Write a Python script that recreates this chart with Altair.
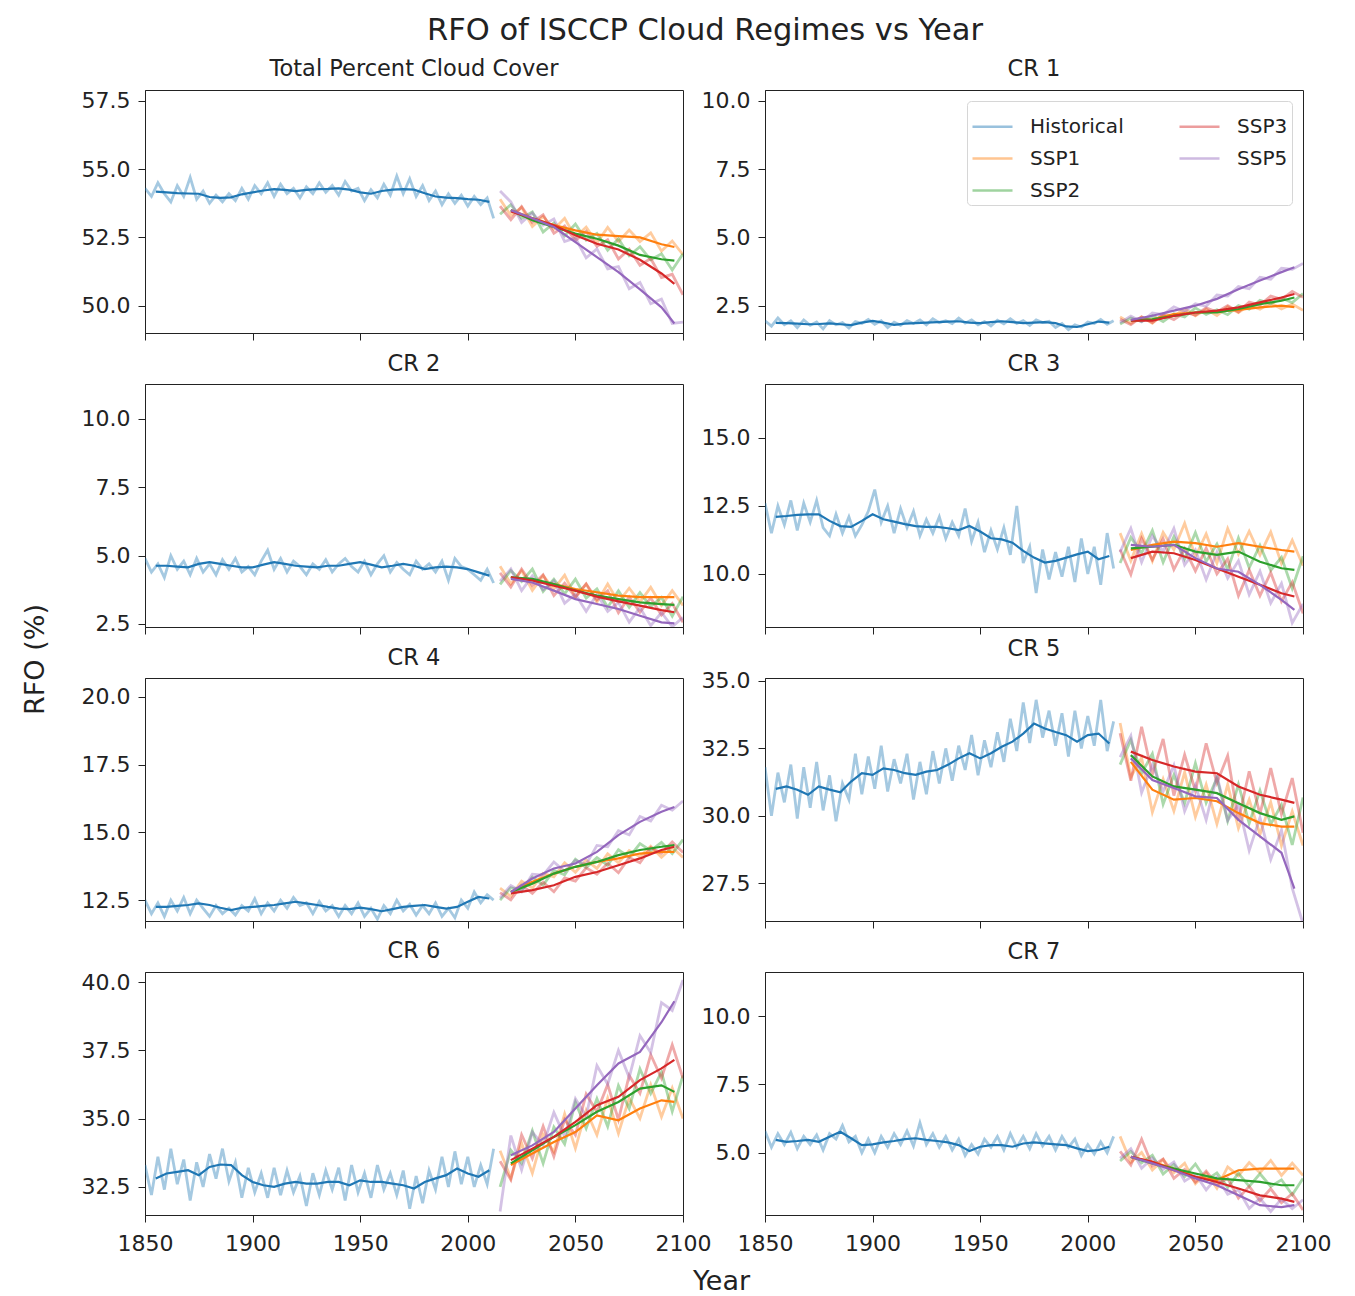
import altair as alt
import pandas as pd

FONT = "DejaVu Sans"
TXT = "#222222"

PANELS = ["Total Percent Cloud Cover", "CR 1", "CR 2", "CR 3", "CR 4", "CR 5", "CR 6", "CR 7"]
SSP_NAMES = ["SSP1", "SSP2", "SSP3", "SSP5"]
LEGEND_ORDER = ["Historical", "SSP1", "SSP2", "SSP3", "SSP5"]
LEGEND_COLORS = ["#1f77b4", "#ff7f0e", "#2ca02c", "#d62728", "#9467bd"]

HIST_RAW_YEARS = list(range(1850, 2013, 3))
HIST_SM_YEARS = list(range(1855, 2011, 5))
SSP_RAW_YEARS = list(range(2015, 2101, 5))
SSP_SM_YEARS = [2020, 2030, 2040, 2050, 2060, 2070, 2080, 2090, 2096]

X_TICKS = [1850, 1900, 1950, 2000, 2050, 2100]
Y_DOMAINS = [[49.0, 57.9], [1.5, 10.4], [2.39, 11.28], [8.05, 16.98],
             [11.73, 20.7], [26.1, 35.11], [31.47, 40.37], [2.72, 11.62]]
Y_TICKS = [[50, 52.5, 55, 57.5], [2.5, 5, 7.5, 10], [2.5, 5, 7.5, 10], [10, 12.5, 15],
           [12.5, 15, 17.5, 20], [27.5, 30, 32.5, 35], [32.5, 35, 37.5, 40], [5, 7.5, 10]]

# ---------------- Total Percent Cloud Cover ----------------
T_HIST_RAW = [54.3, 54.0, 54.5, 54.1, 53.8, 54.4, 54.0, 54.7, 53.9, 54.2,
              53.75, 54.05, 53.8, 54.1, 53.85, 54.3, 53.9, 54.4, 54.1, 54.5,
              54.0, 54.45, 54.1, 54.3, 53.95, 54.35, 54.1, 54.5, 54.15, 54.4,
              54.05, 54.55, 54.2, 54.3, 53.85, 54.25, 53.95, 54.45, 54.05, 54.75,
              54.1, 54.65, 54.0, 54.4, 53.85, 54.2, 53.7, 54.1, 53.75, 54.05,
              53.65, 54.0, 53.7, 53.95, 53.2]
T_HIST_SM = [54.18, 54.15, 54.12, 54.11, 54.10, 53.98, 53.95, 53.97, 54.08, 54.15,
             54.22, 54.27, 54.24, 54.20, 54.24, 54.27, 54.28, 54.30, 54.25, 54.15,
             54.10, 54.20, 54.25, 54.27, 54.25, 54.12, 54.00, 53.96, 53.94, 53.90,
             53.88, 53.80]
T_SSP_RAW = [
    [53.9, 53.3, 53.6, 52.9, 53.27, 52.8, 53.2, 52.51, 52.88, 52.3, 52.87, 52.35, 52.77, 52.35, 52.67, 52.0, 52.37, 51.87],
    [53.35, 53.7, 53.2, 53.43, 52.7, 53.03, 52.56, 52.99, 52.4, 52.65, 52.03, 52.45, 51.83, 52.16, 51.68, 51.9, 51.31, 51.9],
    [53.65, 53.15, 53.63, 53.05, 53.33, 52.65, 52.92, 52.38, 52.72, 52.17, 52.42, 51.71, 52.07, 51.48, 51.73, 51.03, 51.15, 50.4],
    [54.2, 53.8, 53.05, 53.4, 52.95, 53.18, 52.35, 52.48, 51.75, 52.08, 51.35, 51.43, 50.62, 50.85, 50.07, 50.24, 49.35, 49.4],
]
T_SSP_SM = [
    [53.5, 53.2, 52.95, 52.76, 52.6, 52.55, 52.5, 52.25, 52.15],
    [53.5, 53.13, 52.88, 52.64, 52.45, 52.2, 51.86, 51.7, 51.65],
    [53.45, 53.2, 52.95, 52.58, 52.27, 52.06, 51.68, 51.18, 50.8],
    [53.5, 53.2, 52.88, 52.33, 51.78, 51.23, 50.6, 49.94, 49.35],
]

# ---------------- CR 1 ----------------
C1_HIST_RAW = [1.95, 1.75, 2.05, 1.80, 1.95, 1.70, 1.98, 1.78, 1.90, 1.65,
               1.95, 1.80, 1.88, 1.68, 1.92, 1.85, 2.00, 1.82, 1.95, 1.70,
               1.90, 1.78, 1.95, 1.85, 1.98, 1.80, 2.02, 1.88, 1.95, 1.84,
               2.05, 1.86, 1.98, 1.80, 1.92, 1.76, 1.97, 1.84, 2.02, 1.85,
               1.95, 1.78, 1.98, 1.88, 1.93, 1.70, 1.85, 1.62, 1.80, 1.72,
               1.90, 1.85, 2.00, 1.82, 1.95]
C1_HIST_SM = [1.87, 1.86, 1.84, 1.82, 1.83, 1.85, 1.82, 1.79, 1.88, 1.94,
              1.88, 1.80, 1.84, 1.86, 1.88, 1.90, 1.92, 1.93, 1.88, 1.86,
              1.90, 1.93, 1.90, 1.86, 1.88, 1.90, 1.86, 1.74, 1.72, 1.82,
              1.92, 1.88]
C1_SSP_RAW = [
    [2.09, 1.85, 2.09, 1.86, 2.2, 2.12, 2.39, 2.13, 2.37, 2.14, 2.46, 2.25, 2.52, 2.37, 2.61, 2.38, 2.56, 2.33],
    [1.83, 2.05, 1.92, 2.14, 1.92, 2.2, 2.09, 2.42, 2.18, 2.35, 2.17, 2.5, 2.37, 2.7, 2.57, 2.78, 2.61, 2.94],
    [2.0, 1.81, 2.09, 1.88, 2.16, 1.99, 2.26, 2.15, 2.42, 2.27, 2.5, 2.27, 2.63, 2.52, 2.85, 2.73, 3.02, 2.81],
    [1.88, 2.12, 1.91, 2.23, 2.17, 2.46, 2.29, 2.57, 2.48, 2.89, 2.85, 3.2, 3.12, 3.54, 3.47, 3.87, 3.83, 4.05],
]
C1_SSP_SM = [
    [1.95, 2.0, 2.19, 2.25, 2.28, 2.35, 2.44, 2.5, 2.45],
    [1.95, 2.0, 2.13, 2.25, 2.25, 2.38, 2.56, 2.68, 2.8],
    [1.95, 1.95, 2.13, 2.25, 2.32, 2.44, 2.62, 2.8, 2.93],
    [1.98, 2.13, 2.32, 2.5, 2.75, 3.1, 3.42, 3.73, 3.91],
]

# ---------------- CR 2 ----------------
C2_HIST_RAW = [4.9, 4.4, 4.7, 4.2, 5.0, 4.5, 4.8, 4.3, 4.9, 4.4,
               4.7, 4.3, 4.85, 4.5, 4.9, 4.4, 4.6, 4.3, 4.8, 5.2,
               4.5, 4.9, 4.4, 4.8, 4.6, 4.3, 4.7, 4.5, 4.85, 4.4,
               4.7, 4.9, 4.6, 4.4, 4.8, 4.3, 4.7, 5.0, 4.4, 4.75,
               4.5, 4.3, 4.8, 4.5, 4.7, 4.4, 4.8, 4.1, 4.9, 4.6,
               4.5, 4.3, 4.1, 4.5, 4.0]
C2_HIST_SM = [4.63, 4.63, 4.60, 4.57, 4.70, 4.76, 4.70, 4.63, 4.57, 4.57,
              4.67, 4.76, 4.70, 4.63, 4.60, 4.57, 4.63, 4.63, 4.70, 4.76,
              4.67, 4.57, 4.63, 4.70, 4.63, 4.51, 4.57, 4.60, 4.57, 4.51,
              4.39, 4.27]
C2_SSP_RAW = [
    [4.61, 3.97, 4.45, 3.73, 4.27, 3.78, 4.29, 3.48, 3.96, 3.3, 3.96, 3.3, 3.81, 3.3, 3.84, 3.18, 3.72, 3.18],
    [3.95, 4.45, 4.06, 4.51, 3.69, 4.14, 3.6, 4.14, 3.45, 3.78, 3.11, 3.71, 3.11, 3.65, 3.14, 3.47, 2.79, 3.5],
    [4.37, 3.85, 4.51, 3.91, 4.3, 3.54, 3.99, 3.48, 3.97, 3.38, 3.72, 2.91, 3.49, 2.93, 3.45, 2.83, 3.25, 2.56],
    [4.07, 4.51, 3.72, 4.26, 3.75, 4.08, 3.26, 3.59, 2.96, 3.59, 2.96, 3.29, 2.57, 3.1, 2.44, 2.92, 2.4, 2.74],
]
C2_SSP_SM = [
    [4.21, 4.09, 3.96, 3.78, 3.66, 3.54, 3.48, 3.48, 3.48],
    [4.21, 4.15, 3.96, 3.72, 3.54, 3.41, 3.29, 3.23, 3.2],
    [4.21, 4.09, 3.9, 3.72, 3.5, 3.33, 3.17, 3.01, 2.93],
    [4.15, 4.02, 3.72, 3.41, 3.23, 3.05, 2.8, 2.56, 2.52],
]

# ---------------- CR 3 ----------------
C3_HIST_RAW = [12.6, 11.5, 12.5, 11.8, 12.7, 11.6, 12.6, 11.9, 12.7, 11.7,
               11.4, 12.2, 11.5, 12.1, 11.4, 11.8, 12.3, 13.1, 11.9, 12.5,
               11.5, 12.4, 11.7, 12.3, 11.4, 12.0, 11.5, 12.1, 11.3, 11.9,
               11.4, 12.4, 11.2, 11.9, 10.8, 11.6, 10.9, 11.7, 10.7, 12.5,
               10.4, 11.0, 9.3, 10.9, 9.8, 10.8, 9.9, 11.0, 9.7, 11.3,
               10.0, 11.0, 9.6, 11.5, 10.2]
C3_HIST_SM = [12.10, 12.13, 12.17, 12.19, 12.19, 11.95, 11.76, 11.73, 11.95, 12.19,
              12.01, 11.92, 11.83, 11.76, 11.73, 11.73, 11.68, 11.61, 11.76, 11.56,
              11.31, 11.27, 11.15, 10.85, 10.60, 10.42, 10.48, 10.60, 10.72, 10.82,
              10.54, 10.66]
C3_SSP_RAW = [
    [11.5, 10.48, 11.48, 10.47, 11.53, 10.89, 11.86, 10.63, 11.47, 10.4, 11.67, 10.73, 11.57, 10.7, 11.54, 10.38, 11.24, 10.3],
    [10.4, 11.34, 10.77, 11.6, 10.43, 11.37, 10.55, 11.52, 10.46, 11.1, 10.16, 11.32, 10.23, 11.05, 10.13, 10.61, 9.47, 10.65],
    [10.9, 9.98, 11.3, 10.52, 11.29, 10.16, 10.93, 10.11, 10.95, 10.0, 10.55, 9.2, 10.15, 9.2, 10.05, 8.99, 9.7, 8.55],
    [10.8, 11.67, 10.43, 11.4, 10.83, 11.67, 10.33, 10.88, 9.79, 10.8, 9.84, 10.48, 9.24, 10.1, 8.93, 9.65, 8.2, 8.9],
]
C3_SSP_SM = [
    [10.88, 11.07, 11.19, 11.13, 11.0, 11.13, 11.0, 10.88, 10.82],
    [10.94, 11.0, 11.07, 10.82, 10.7, 10.82, 10.45, 10.21, 10.15],
    [10.58, 10.82, 10.76, 10.51, 10.2, 9.9, 9.6, 9.29, 9.17],
    [11.07, 11.0, 11.07, 10.58, 10.2, 10.08, 9.6, 9.05, 8.68],
]

# ---------------- CR 4 ----------------
C4_HIST_RAW = [12.5, 12.0, 12.4, 11.9, 12.5, 12.1, 12.6, 12.0, 12.5, 12.2,
               11.9, 12.3, 12.0, 12.2, 11.95, 12.3, 12.1, 12.55, 12.0, 12.4,
               12.1, 12.5, 12.2, 12.6, 12.3, 12.4, 12.0, 12.45, 12.1, 12.3,
               11.9, 12.3, 12.0, 12.4, 11.9, 12.2, 11.8, 12.3, 12.0, 12.5,
               12.1, 12.35, 11.95, 12.3, 12.0, 12.4, 11.9, 12.2, 11.85, 12.5,
               12.2, 12.8, 12.4, 12.7, 12.5]
C4_HIST_SM = [12.25, 12.25, 12.29, 12.32, 12.38, 12.32, 12.22, 12.13, 12.22, 12.25,
              12.29, 12.32, 12.38, 12.44, 12.38, 12.32, 12.25, 12.19, 12.17, 12.22,
              12.17, 12.09, 12.17, 12.25, 12.29, 12.32, 12.25, 12.19, 12.25, 12.44,
              12.62, 12.56]
C4_SSP_RAW = [
    [12.94, 12.64, 13.2, 12.94, 13.49, 13.36, 13.88, 13.53, 13.98, 13.67, 14.21, 13.88, 14.33, 14.1, 14.49, 14.08, 14.44, 14.08],
    [12.5, 12.96, 12.87, 13.35, 13.06, 13.6, 13.44, 14.01, 13.7, 14.07, 13.79, 14.36, 14.09, 14.59, 14.33, 14.63, 14.22, 14.73],
    [12.78, 12.51, 13.05, 12.75, 13.16, 12.81, 13.32, 13.2, 13.69, 13.46, 13.86, 13.51, 14.07, 13.88, 14.44, 14.23, 14.65, 14.26],
    [12.58, 13.04, 12.81, 13.46, 13.42, 13.91, 13.56, 13.97, 13.82, 14.52, 14.47, 15.06, 14.91, 15.59, 15.42, 16.0, 15.82, 16.16],
]
C4_SSP_SM = [
    [12.8, 13.18, 13.48, 13.73, 13.91, 14.04, 14.22, 14.28, 14.28],
    [12.8, 13.11, 13.48, 13.73, 13.91, 14.16, 14.35, 14.47, 14.53],
    [12.75, 12.87, 13.05, 13.36, 13.54, 13.79, 14.04, 14.35, 14.47],
    [12.8, 13.3, 13.67, 13.85, 14.28, 14.9, 15.39, 15.76, 15.94],
]

# ---------------- CR 5 ----------------
C5_HIST_RAW = [31.8, 30.0, 31.6, 30.5, 31.9, 29.9, 31.8, 30.3, 32.0, 30.2,
               31.5, 29.8, 31.2, 30.6, 32.3, 30.8, 32.2, 31.0, 32.6, 30.9,
               32.1, 31.2, 32.3, 30.6, 32.0, 30.8, 32.4, 31.2, 32.5, 31.3,
               32.6, 31.7, 33.0, 31.5, 32.8, 31.8, 33.1, 32.0, 33.6, 32.4,
               34.2, 32.7, 34.3, 32.9, 33.9, 32.6, 33.8, 32.2, 33.9, 32.5,
               33.7, 32.6, 34.3, 32.4, 33.5]
C5_HIST_SM = [31.0, 31.09, 30.97, 30.78, 31.09, 30.97, 30.87, 31.27, 31.58, 31.52,
              31.76, 31.7, 31.58, 31.52, 31.64, 31.7, 31.89, 32.13, 32.32, 32.13,
              32.32, 32.56, 32.75, 33.05, 33.42, 33.24, 33.11, 32.99, 32.75, 32.99,
              33.05, 32.68]
C5_SSP_RAW = [
    [33.44, 31.44, 32.15, 30.13, 31.36, 30.18, 31.61, 29.96, 31.16, 29.7, 31.16, 29.54, 30.6, 29.31, 30.5, 28.9, 30.16, 28.9],
    [31.9, 32.81, 31.57, 32.3, 30.43, 31.51, 30.47, 31.95, 30.48, 31.4, 29.81, 31.17, 29.72, 30.94, 29.69, 30.41, 28.92, 30.68],
    [33.06, 31.3, 33.3, 31.53, 32.85, 30.75, 32.27, 30.92, 32.69, 31.22, 32.23, 29.83, 31.65, 30.06, 31.77, 30.06, 31.4, 29.37],
    [32.18, 32.97, 30.86, 31.89, 30.9, 31.87, 30.17, 31.14, 29.85, 31.5, 29.83, 30.41, 28.71, 29.94, 28.38, 29.47, 27.32, 26.0],
]
C5_SSP_SM = [
    [32.0, 30.97, 30.6, 30.66, 30.54, 30.1, 29.73, 29.6, 29.6],
    [32.25, 31.46, 31.09, 30.97, 30.84, 30.47, 30.1, 29.85, 29.98],
    [32.38, 32.07, 31.83, 31.64, 31.58, 31.09, 30.78, 30.6, 30.48],
    [32.13, 31.33, 31.03, 30.72, 30.66, 29.85, 29.24, 28.63, 27.3],
]

# ---------------- CR 6 ----------------
C6_HIST_RAW = [33.3, 32.2, 33.6, 32.4, 33.9, 32.6, 33.5, 32.0, 33.4, 32.5,
               33.7, 32.8, 33.9, 32.7, 33.4, 32.1, 33.2, 32.3, 33.0, 32.1,
               33.2, 32.2, 33.1, 32.3, 32.9, 31.8, 33.0, 32.2, 33.1, 32.4,
               33.2, 32.0, 33.3, 32.3, 33.0, 32.1, 33.3, 32.4, 33.0, 32.2,
               33.1, 31.7, 32.9, 31.9, 33.1, 32.4, 33.6, 32.5, 33.8, 32.6,
               33.6, 32.5, 33.3, 32.6, 33.9]
C6_HIST_SM = [32.81, 32.99, 33.05, 33.11, 32.93, 33.23, 33.32, 33.3, 32.93, 32.68,
              32.56, 32.5, 32.62, 32.68, 32.62, 32.62, 32.68, 32.68, 32.56, 32.74,
              32.68, 32.68, 32.62, 32.56, 32.44, 32.68, 32.81, 32.93, 33.17, 32.99,
              32.87, 33.11]
C6_SSP_RAW = [
    [33.82, 32.82, 34.1, 33.0, 34.41, 33.78, 35.17, 33.91, 35.3, 34.4, 35.75, 34.46, 35.75, 35.01, 36.24, 35.07, 36.12, 35.0],
    [32.5, 33.84, 33.36, 34.56, 33.36, 34.69, 34.07, 35.6, 34.64, 35.73, 34.71, 36.21, 35.37, 36.82, 35.92, 36.7, 35.26, 36.58],
    [33.44, 32.76, 34.41, 33.54, 34.72, 33.61, 34.96, 34.4, 35.9, 35.25, 36.25, 34.96, 36.58, 35.93, 37.34, 36.48, 37.7, 36.48],
    [31.6, 34.38, 33.12, 34.5, 34.03, 35.23, 34.34, 35.73, 35.08, 36.94, 36.26, 37.5, 36.51, 38.04, 37.42, 39.25, 38.96, 40.08],
]
C6_SSP_SM = [
    [33.3, 33.72, 34.14, 34.51, 35.12, 34.94, 35.37, 35.67, 35.61],
    [33.36, 33.84, 34.33, 34.76, 35.25, 35.61, 36.1, 36.22, 35.98],
    [33.48, 33.9, 34.33, 34.88, 35.49, 35.8, 36.41, 36.84, 37.15],
    [33.66, 34.02, 34.51, 35.37, 36.22, 37.02, 37.44, 38.53, 39.3],
]

# ---------------- CR 7 ----------------
C7_HIST_RAW = [5.8, 5.2, 5.7, 5.3, 5.75, 5.15, 5.6, 5.3, 5.65, 5.1,
               5.7, 5.5, 6.0, 5.4, 5.6, 5.0, 5.5, 5.0, 5.6, 5.2,
               5.7, 5.3, 5.8, 5.25, 6.1, 5.3, 5.7, 5.2, 5.6, 5.1,
               5.5, 4.9, 5.3, 4.95, 5.5, 5.2, 5.6, 5.1, 5.7, 5.2,
               5.6, 5.15, 5.7, 5.25, 5.6, 5.1, 5.6, 5.2, 5.5, 4.9,
               5.3, 4.95, 5.4, 5.0, 5.6]
C7_HIST_SM = [5.47, 5.4, 5.43, 5.47, 5.4, 5.59, 5.77, 5.53, 5.28, 5.31,
              5.38, 5.43, 5.5, 5.53, 5.47, 5.43, 5.38, 5.28, 5.06, 5.22,
              5.28, 5.28, 5.22, 5.34, 5.38, 5.34, 5.31, 5.28, 5.16, 5.06,
              5.1, 5.22]
C7_SSP_RAW = [
    [5.6, 4.65, 5.01, 4.37, 4.75, 4.27, 4.62, 3.87, 4.26, 3.7, 4.48, 4.16, 4.64, 4.27, 4.72, 4.17, 4.62, 4.17],
    [4.7, 5.05, 4.63, 4.91, 4.22, 4.57, 4.13, 4.59, 4.0, 4.26, 3.73, 4.25, 3.77, 4.23, 3.77, 4.01, 3.46, 4.06],
    [5.05, 4.55, 5.5, 4.52, 4.77, 4.06, 4.39, 3.92, 4.33, 3.83, 4.06, 3.34, 3.77, 3.24, 3.68, 3.17, 3.5, 2.9],
    [4.8, 5.15, 4.43, 4.81, 4.39, 4.66, 3.96, 4.21, 3.64, 4.11, 3.48, 3.64, 2.96, 3.33, 2.85, 3.31, 2.95, 3.28],
]
C7_SSP_SM = [
    [4.85, 4.67, 4.42, 4.12, 4.0, 4.36, 4.42, 4.42, 4.42],
    [4.85, 4.61, 4.42, 4.24, 4.06, 4.0, 3.93, 3.81, 3.81],
    [4.85, 4.67, 4.36, 4.12, 3.93, 3.69, 3.44, 3.32, 3.2],
    [4.85, 4.61, 4.36, 4.06, 3.81, 3.44, 3.08, 3.01, 3.08],
]

PANEL_SOURCES = [
    (T_HIST_RAW, T_HIST_SM, T_SSP_RAW, T_SSP_SM),
    (C1_HIST_RAW, C1_HIST_SM, C1_SSP_RAW, C1_SSP_SM),
    (C2_HIST_RAW, C2_HIST_SM, C2_SSP_RAW, C2_SSP_SM),
    (C3_HIST_RAW, C3_HIST_SM, C3_SSP_RAW, C3_SSP_SM),
    (C4_HIST_RAW, C4_HIST_SM, C4_SSP_RAW, C4_SSP_SM),
    (C5_HIST_RAW, C5_HIST_SM, C5_SSP_RAW, C5_SSP_SM),
    (C6_HIST_RAW, C6_HIST_SM, C6_SSP_RAW, C6_SSP_SM),
    (C7_HIST_RAW, C7_HIST_SM, C7_SSP_RAW, C7_SSP_SM),
]


def build_frame(i):
    hist_raw, hist_sm, ssp_raw, ssp_sm = PANEL_SOURCES[i]
    rows = []

    def add(series, kind, years, values):
        assert len(years) == len(values), (PANELS[i], series, kind, len(years), len(values))
        for yr, v in zip(years, values):
            rows.append({"series": series, "kind": kind, "year": yr, "value": v})

    add("Historical", "raw", HIST_RAW_YEARS, hist_raw)
    for name, vals in zip(SSP_NAMES, ssp_raw):
        add(name, "raw", SSP_RAW_YEARS, vals)
    add("Historical", "smooth", HIST_SM_YEARS, hist_sm)
    for name, vals in zip(SSP_NAMES, ssp_sm):
        add(name, "smooth", SSP_SM_YEARS, vals)
    return pd.DataFrame(rows)


def make_panel(i):
    d = build_frame(i)
    bottom = i >= 6
    x_axis = alt.Axis(
        values=X_TICKS, format="d", labels=bottom, labelFlush=False, labelPadding=11,
        title="Year" if i == 6 else None,
        **({"titleX": 576, "titleY": 66, "titleAlign": "center", "titleBaseline": "middle"} if i == 6 else {}),
    )
    y_axis = alt.Axis(
        values=Y_TICKS[i], format=".1f", labelFlush=False,
        title="RFO (%)" if i == 2 else None,
        **({"titleX": -110, "titleY": 275, "titleAngle": 270, "titleAlign": "center",
            "titleBaseline": "middle"} if i == 2 else {}),
    )
    x = alt.X("year:Q", scale=alt.Scale(domain=[1850, 2100], nice=False, zero=False), axis=x_axis)
    y = alt.Y("value:Q", scale=alt.Scale(domain=Y_DOMAINS[i], nice=False, zero=False), axis=y_axis)
    cscale = alt.Scale(domain=LEGEND_ORDER, range=LEGEND_COLORS)
    if i == 1:
        legend = alt.Legend(
            title=None, orient="top-right", columns=2, offset=11,
            symbolType="stroke", symbolSize=1600, symbolStrokeWidth=2.5, symbolOpacity=0.45,
            labelFontSize=20, labelFont=FONT, labelColor=TXT, labelOffset=16,
            columnPadding=50, rowPadding=0, padding=4,
            fillColor="rgba(255,255,255,0.85)", strokeColor="#d6d6d6", cornerRadius=4,
        )
    else:
        legend = None
    color = alt.Color("series:N", scale=cscale, legend=legend)
    base = alt.Chart(d)
    raw = base.transform_filter(alt.datum.kind == "raw").mark_line(
        strokeWidth=2.8, opacity=0.4, clip=True
    ).encode(x=x, y=y, color=color, detail="series:N")
    sm = base.transform_filter(alt.datum.kind == "smooth").mark_line(
        strokeWidth=2.2, clip=True
    ).encode(x=x, y=y, color=color, detail="series:N")
    return alt.layer(raw, sm).properties(
        width=538, height=243,
        title=alt.TitleParams(PANELS[i], fontSize=22.5, font=FONT, fontWeight="normal",
                              color=TXT, anchor="middle", baseline="alphabetic", offset=-9),
    )


panels = [make_panel(i) for i in range(8)]

chart = alt.concat(*panels, columns=2, spacing={"row": 51, "column": 82}).properties(
    bounds="flush",
    padding={"left": 12, "top": 8, "right": 5, "bottom": 5},
    title=alt.TitleParams("RFO of ISCCP Cloud Regimes vs Year", fontSize=30.5, font=FONT,
                          fontWeight="normal", color=TXT, anchor="middle",
                          baseline="alphabetic", offset=-13, dx=29),
).resolve_scale(color="independent").resolve_legend(color="independent").configure_view(
    stroke="#222222", strokeWidth=1
).configure_axis(
    grid=False, labelFont=FONT, labelFontSize=22, labelColor=TXT,
    tickColor=TXT, domainColor=TXT, tickSize=7, labelPadding=8,
    titleFont=FONT, titleFontSize=27, titleFontWeight="normal", titleColor=TXT,
)

chart.save("out.html", embed_options={"renderer": "svg", "actions": False})
